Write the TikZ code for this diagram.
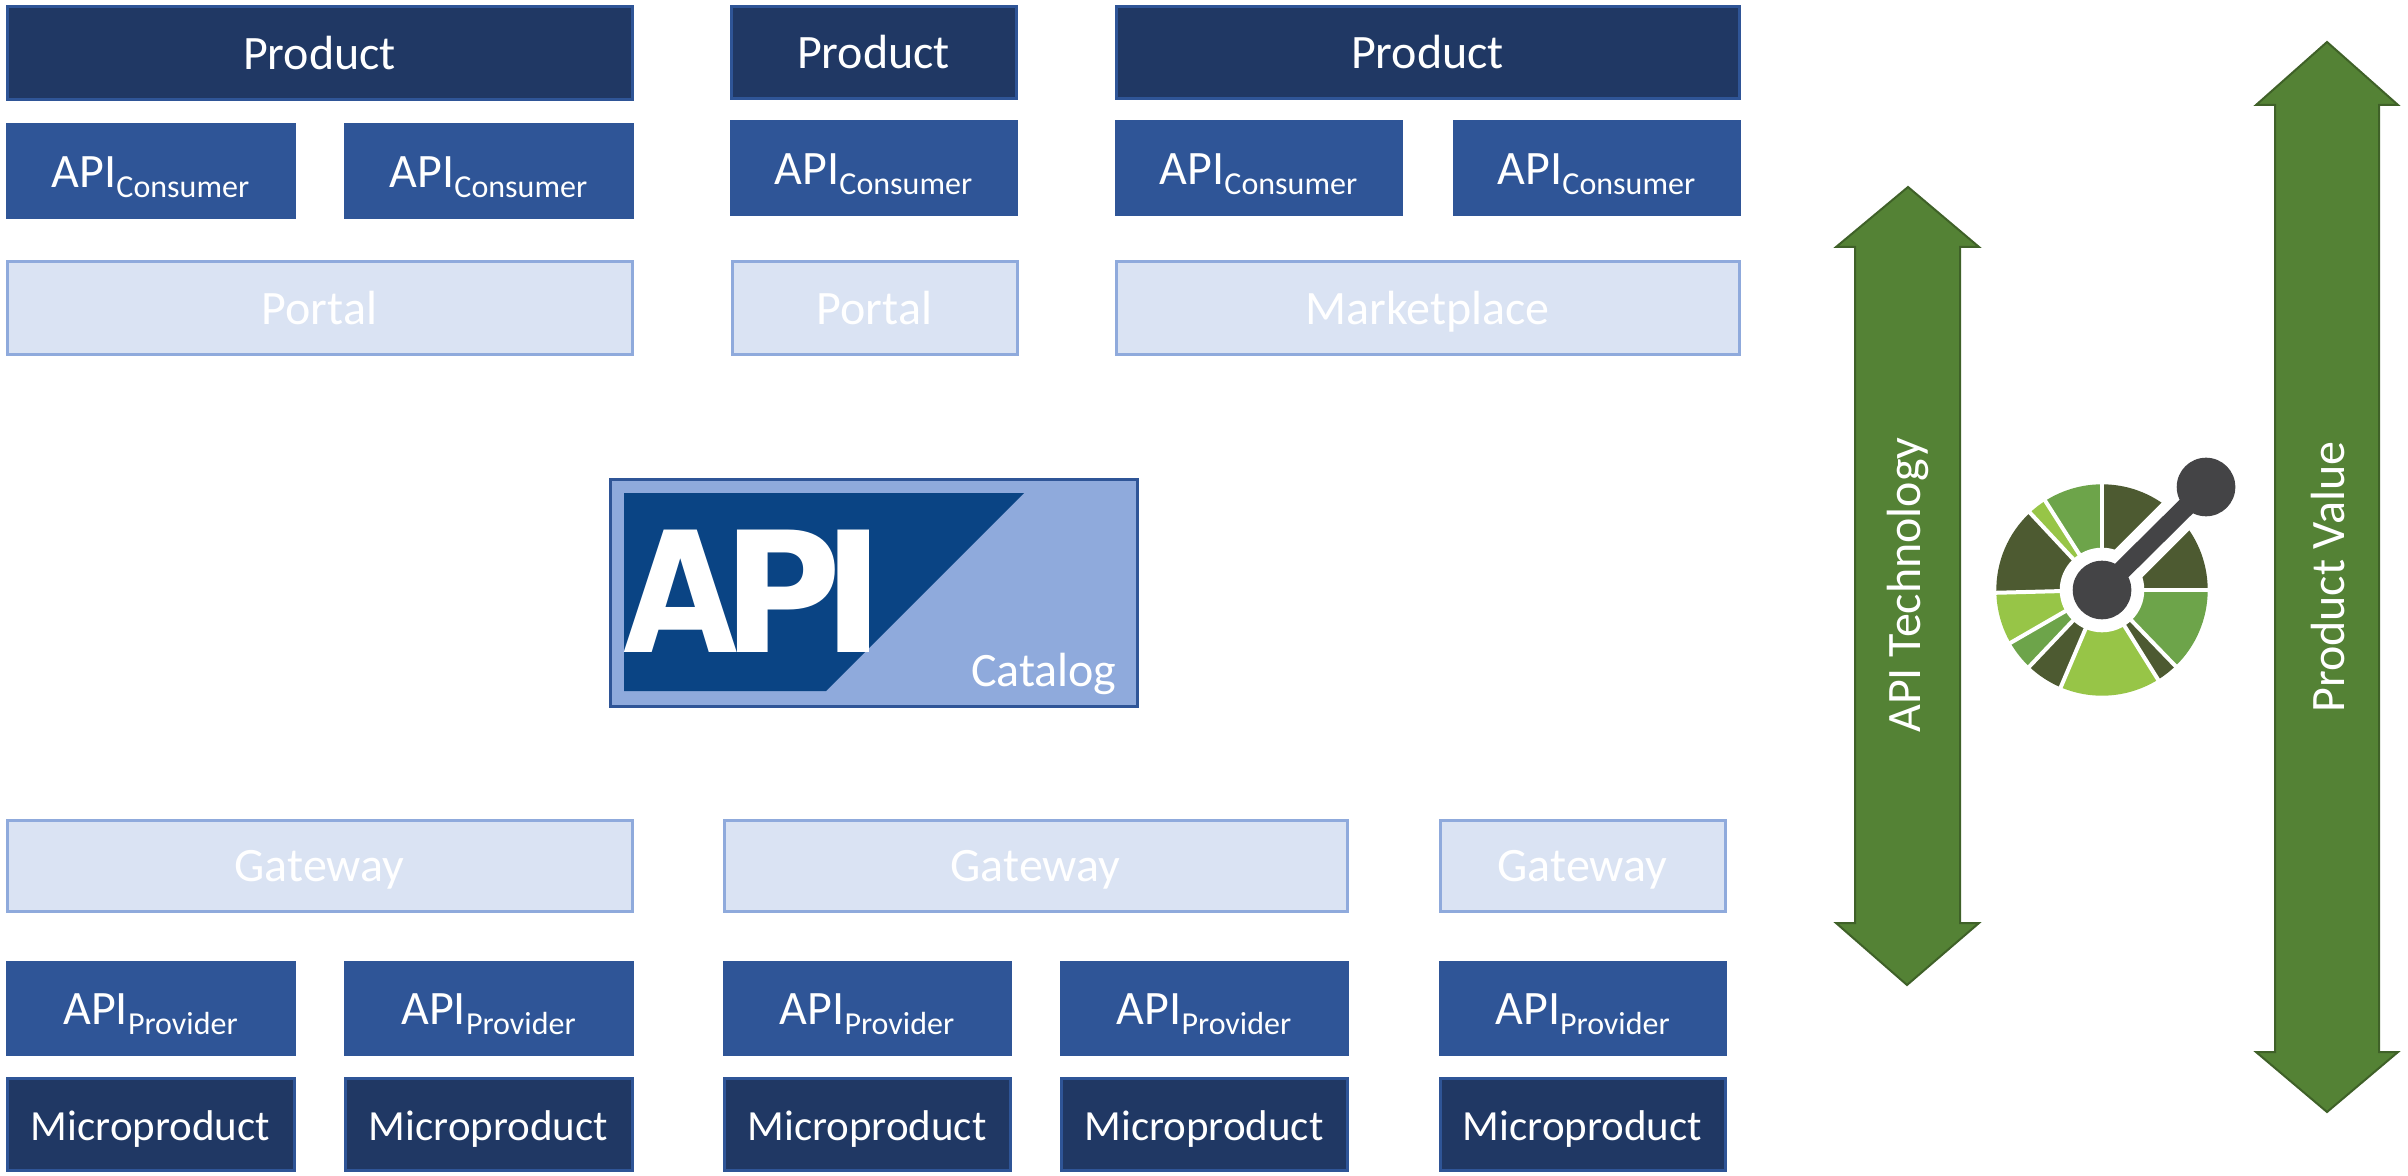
\documentclass[tikz,border=0pt]{standalone}
\usepackage{fontspec}
\setmainfont{Carlito}
\newfontfamily\apifont{DejaVu Sans Bold}
\definecolor{navy}{HTML}{203864}
\definecolor{midblue}{HTML}{2F5597}
\definecolor{paleblue}{HTML}{DAE3F3}
\definecolor{softblue}{HTML}{8FAADC}
\definecolor{logoblue}{HTML}{0A4484}
\definecolor{arrowgreen}{HTML}{548235}
\definecolor{arrowedge}{HTML}{3F6128}
\definecolor{oasdark}{HTML}{4D5A31}
\definecolor{oasmid}{HTML}{6DA44A}
\definecolor{oaslight}{HTML}{97C547}
\definecolor{oasgrey}{HTML}{444446}
\tikzset{
  x=0.5pt,y=-0.5pt,
  lbl/.style={text=white,font=\fontsize{24}{28}\selectfont,inner sep=0pt},
  boxbase/.style={draw,line width=1.5pt},
  prod/.style={boxbase,fill=navy,draw=midblue},
  apibox/.style={boxbase,fill=midblue,draw=midblue},
  pale/.style={boxbase,fill=paleblue,draw=softblue},
  gap/.style={white,line width=2pt},
  bigarrow/.style={fill=arrowgreen,draw=arrowedge,line width=1pt,line join=miter},
}
\newcommand{\subtext}[1]{\raisebox{-5pt}{\fontsize{16}{18}\selectfont #1}}
\newcommand{\cons}{API\subtext{Consumer}}
\newcommand{\prov}{API\subtext{Provider}}
\newcommand{\micro}{{\fontsize{21.5}{26}\selectfont Microproduct}}
% \bx{name}{style}{x1}{y1}{x2}{y2}{text}
\newcommand{\bx}[7]{%
  \path[#2] ({#3+1},#4) rectangle ({#5-1},#6);
  \node[lbl,anchor=base] (#1) at ({(#3+#5)/2},{(#4+#6)/2+16}) {#7};}
% \sector{colour}{from}{to}
\newcommand{\sector}[3]{\fill[#1] (2102,590) -- ++(#2:105.7 and -105.7) arc[start angle=#2,end angle=#3,x radius=105.7,y radius=-105.7] -- cycle;}
\newcommand{\gapline}[1]{\draw[gap] (2102,590) -- ++(#1:110 and -110);}
\begin{document}
\begin{tikzpicture}
\useasboundingbox (0,0) rectangle (2408,1176);
\fill[white] (0,0) rectangle (2408,1176);
% top rows
\bx{pa}{prod}{6}{7}{633}{100}{Product}
\bx{ca}{apibox}{6}{125}{295}{218}{\cons}
\bx{cb}{apibox}{344}{125}{633}{218}{\cons}
\bx{pta}{pale}{6}{262}{633}{355}{Portal}
\bx{pb}{prod}{730}{7}{1017}{99}{Product}
\bx{cc}{apibox}{730}{122}{1017}{215}{\cons}
\bx{ptb}{pale}{731}{262}{1018}{355}{Portal}
\bx{pc}{prod}{1115}{7}{1740}{99}{Product}
\bx{cd}{apibox}{1115}{122}{1402}{215}{\cons}
\bx{ce}{apibox}{1453}{122}{1740}{215}{\cons}
\bx{mk}{pale}{1115}{262}{1740}{355}{Marketplace}
% bottom rows
\bx{ga}{pale}{6}{820}{633}{911}{Gateway}
\bx{gb}{pale}{723}{820}{1348}{911}{Gateway}
\bx{gc}{pale}{1439}{820}{1726}{911}{Gateway}
\bx{pra}{apibox}{6}{962}{295}{1054}{\prov}
\bx{prb}{apibox}{344}{962}{633}{1054}{\prov}
\bx{prc}{apibox}{723}{962}{1011}{1054}{\prov}
\bx{prd}{apibox}{1060}{962}{1348}{1054}{\prov}
\bx{pre}{apibox}{1439}{962}{1726}{1054}{\prov}
\bx{ma}{prod}{6}{1078}{295}{1170}{\micro}
\bx{mb}{prod}{344}{1078}{633}{1170}{\micro}
\bx{mc}{prod}{723}{1078}{1011}{1170}{\micro}
\bx{md}{prod}{1060}{1078}{1348}{1170}{\micro}
\bx{me}{prod}{1439}{1078}{1726}{1170}{\micro}
% catalog
\path[fill=softblue,draw=midblue,line width=1.5pt] (610,479) rectangle (1137,706);
\fill[logoblue] (624,493) -- (1024,493) -- (826,691) -- (624,691) -- cycle;
\node[inner sep=0pt,anchor=base west,text=white] (apilogo) at (623,652)
  {\fontsize{84}{90}\apifont\scalebox{.88}[1]{A}\kern-7.5pt\scalebox{.97}[1]{P}\kern-10pt\scalebox{1}[1]{I}};
\node[lbl,anchor=base east] (cat) at (1117,686) {Catalog};
% arrows
\path[bigarrow] (1908,187) -- (1979,247) -- (1960,247) -- (1960,923) -- (1979,923) -- (1907,985) -- (1836,923) -- (1855,923) -- (1855,247) -- (1836,247) -- cycle;
\node[lbl,rotate=90] (tech) at (1908,585) {API Technology};
\path[bigarrow] (2327,42) -- (2398,105) -- (2379,105) -- (2379,1052) -- (2398,1052) -- (2327,1112) -- (2256,1052) -- (2275,1052) -- (2275,105) -- (2256,105) -- cycle;
\node[lbl,rotate=90] (val) at (2328,577) {Product Value};
% OpenAPI logo
\sector{oasdark}{0}{90}
\sector{oasmid}{90}{122}
\sector{oaslight}{122}{133}
\sector{oasdark}{133}{181}
\sector{oaslight}{181}{210}
\sector{oasmid}{210}{227}
\sector{oasdark}{227}{247}
\sector{oaslight}{247}{302}
\sector{oasdark}{302}{314}
\sector{oasmid}{314}{360}
\gapline{0}\gapline{90}\gapline{122.5}\gapline{133}\gapline{181.5}\gapline{210}\gapline{226.5}\gapline{247}\gapline{302}\gapline{314}
\fill[white] (2102,590) circle[radius=42.3];
\draw[white,line width=19.5pt] (2102,590) -- (2206,486) -- (2232,460);
\draw[oasgrey,line width=9.5pt] (2102,590) -- (2206,487);
\fill[oasgrey] (2102,590) circle[radius=29.3];
\fill[oasgrey] (2206,487) circle[radius=29.3];
\end{tikzpicture}
\end{document}
